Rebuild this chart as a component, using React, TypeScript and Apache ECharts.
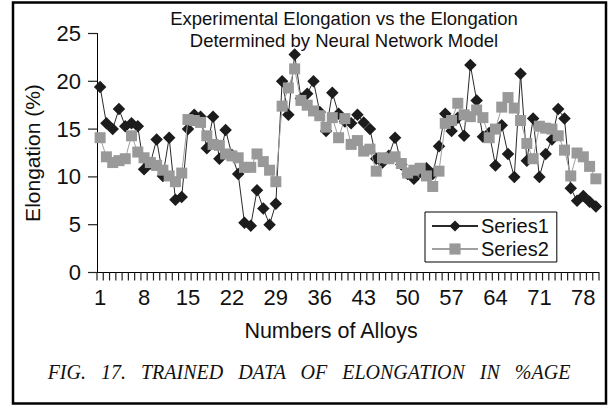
import React, { useEffect, useRef } from "react";
import * as echarts from "echarts";

const categories: string[] = Array.from({ length: 80 }, (_, i) => String(i + 1));

const series1: number[] = [
  19.4, 15.6, 15.0, 17.1, 15.3, 15.6, 15.3, 10.8, 11.4, 13.9,
  10.1, 14.1, 7.6, 7.9, 15.0, 16.5, 16.3, 13.0, 16.3, 11.9,
  14.9, 12.3, 10.3, 5.2, 4.9, 8.6, 6.7, 5.0, 7.2, 20.0,
  16.5, 22.8, 18.2, 18.7, 20.0, 16.8, 14.8, 18.8, 16.6, 15.8,
  15.6, 16.5, 15.7, 15.0, 11.9, 11.5, 12.2, 14.1, 11.3, 10.3,
  9.8, 10.5, 10.9, 10.3, 13.2, 16.6, 14.8, 16.2, 14.3, 21.7,
  18.0, 14.2, 14.6, 11.2, 15.4, 12.4, 10.0, 20.8, 11.7, 16.1,
  10.0, 12.4, 13.9, 17.1, 16.1, 8.8, 7.5, 8.0, 7.4, 6.9,
];

const series2: number[] = [
  14.1, 12.1, 11.5, 11.7, 11.9, 14.3, 12.6, 12.0, 11.5, 11.2,
  10.7, 10.1, 9.5, 10.4, 16.0, 15.9, 15.7, 14.3, 13.4, 13.3,
  12.4, 12.2, 12.0, 11.0, 11.0, 12.4, 11.6, 10.7, 9.5, 17.4,
  19.3, 21.3, 18.0, 17.5, 16.9, 16.4, 15.2, 16.2, 14.1, 16.1,
  13.4, 13.8, 12.7, 12.9, 10.6, 12.0, 11.9, 12.1, 11.4, 10.4,
  10.7, 10.9, 10.1, 9.0, 10.6, 15.6, 15.9, 17.7, 16.5, 16.3,
  17.0, 16.2, 14.1, 15.0, 17.3, 18.3, 17.2, 15.9, 13.5, 11.9,
  15.3, 15.1, 15.0, 14.3, 12.8, 10.1, 12.5, 12.1, 11.1, 9.8,
];

const yTicks = { min: 0, max: 25, interval: 5 };
const yTickValues: number[] = [0, 5, 10, 15, 20, 25];

const titleLines = [
  "Experimental Elongation vs the Elongation",
  "Determined by Neural Network Model",
];
const yName = "Elongation (%)";
const xName = "Numbers of Alloys";
const caption = "FIG.   17.   TRAINED   DATA   OF   ELONGATION   IN   %AGE";

export default function App() {
  const ref = useRef<HTMLDivElement>(null);

  useEffect(() => {
    if (!ref.current) return;
    const chart = echarts.init(ref.current, undefined, { renderer: "svg" });
    const sans = "'Liberation Sans', Arial, sans-serif";
    const tickFill = { fill: "#222" };

    // x-axis tick comb drawn as thin filled rects at each category boundary
    const xTickRender = (params: any, api: any) => {
      const i = api.value(0);
      const c = api.coord([i, 0]);
      const band = api.size([1, 0])[0];
      const left = c[0] - band / 2;
      const y = c[1];
      const children: any[] = [
        { type: "rect", shape: { x: left - 0.6, y: y, width: 1.2, height: 8 }, style: tickFill },
      ];
      if (i === categories.length - 1) {
        const right = c[0] + band / 2;
        children.push({ type: "rect", shape: { x: right - 0.6, y: y, width: 1.2, height: 8 }, style: tickFill });
      }
      return { type: "group", children };
    };

    // y-axis ticks, outside to the left of the axis line
    const yTickRender = (params: any, api: any) => {
      const v = api.value(1);
      const c = api.coord([0, v]);
      const band = api.size([1, 0])[0];
      const x = c[0] - band / 2;
      return {
        type: "rect",
        shape: { x: x - 9, y: c[1] - 0.6, width: 9, height: 1.2 },
        style: tickFill,
      };
    };

    chart.setOption({
      animation: false,
      backgroundColor: "#ffffff",
      grid: { left: 97, top: 33.5, width: 502, height: 239, containLabel: false },
      legend: {
        orient: "vertical",
        left: 425,
        top: 212,
        width: 132,
        padding: [4, 8, 3, 6],
        itemGap: 3,
        itemWidth: 46,
        itemHeight: 14,
        borderColor: "#000",
        borderWidth: 1,
        backgroundColor: "#fff",
        textStyle: { fontFamily: sans, fontSize: 20, color: "#111", lineHeight: 20, padding: [0, 0, 0, -2] },
        data: ["Series1", "Series2"],
      },
      xAxis: {
        type: "category",
        data: categories,
        boundaryGap: true,
        axisLine: { show: true, lineStyle: { color: "#000", width: 1 } },
        axisTick: { show: false },
        axisLabel: { interval: 6, margin: 14, fontFamily: sans, fontSize: 22, color: "#111" },
        splitLine: { show: false },
      },
      yAxis: {
        type: "value",
        min: yTicks.min,
        max: yTicks.max,
        interval: yTicks.interval,
        axisLine: { show: true, lineStyle: { color: "#000", width: 1 } },
        axisTick: { show: false },
        axisLabel: { margin: 16, fontFamily: sans, fontSize: 22, color: "#111" },
        splitLine: { show: false },
      },
      series: [
        {
          name: "xTicks",
          type: "custom",
          renderItem: xTickRender,
          data: categories.map((_, i) => [i, 0]),
          clip: false,
          silent: true,
          z: 5,
        },
        {
          name: "yTicks",
          type: "custom",
          renderItem: yTickRender,
          data: yTickValues.map((v) => [0, v]),
          clip: false,
          silent: true,
          z: 5,
        },
        {
          name: "Series1",
          type: "line",
          data: series1,
          symbol: "diamond",
          symbolSize: 12.5,
          showSymbol: true,
          showAllSymbol: true,
          lineStyle: { color: "#2a2a2a", width: 1 },
          itemStyle: { color: "#1c1c1c" },
          z: 2,
        },
        {
          name: "Series2",
          type: "line",
          data: series2,
          symbol: "rect",
          symbolSize: 11,
          showSymbol: true,
          showAllSymbol: true,
          lineStyle: { color: "#a0a0a0", width: 1 },
          itemStyle: { color: "#999999" },
          z: 3,
        },
      ],
      graphic: [
        {
          type: "rect",
          shape: { x: 13, y: 2.5, width: 593, height: 401 },
          style: { fill: "none", stroke: "#000", lineWidth: 2.5 },
          silent: true,
          z: 100,
        },
        {
          type: "text",
          x: 344,
          y: 7,
          style: {
            text: titleLines.join("\n"),
            fontFamily: sans,
            fontSize: 18.5,
            lineHeight: 22,
            fill: "#111",
            align: "center",
            verticalAlign: "top",
          },
        },
        {
          type: "text",
          x: 32,
          y: 153,
          rotation: Math.PI / 2,
          style: {
            text: yName,
            fontFamily: sans,
            fontSize: 21,
            fill: "#111",
            align: "center",
            verticalAlign: "middle",
          },
        },
        {
          type: "text",
          x: 331,
          y: 331,
          style: {
            text: xName,
            fontFamily: sans,
            fontSize: 21.5,
            fill: "#111",
            align: "center",
            verticalAlign: "middle",
          },
        },
        {
          type: "text",
          x: 309,
          y: 372,
          style: {
            text: caption,
            fontFamily: "'Liberation Serif', 'Times New Roman', serif",
            fontStyle: "italic",
            fontSize: 20,
            fill: "#111",
            align: "center",
            verticalAlign: "middle",
          },
        },
      ],
    });
    return () => chart.dispose();
  }, []);

  return (
    <div
      ref={ref}
      style={{ position: "absolute", left: 0, top: 0, width: 610, height: 408 }}
    />
  );
}
